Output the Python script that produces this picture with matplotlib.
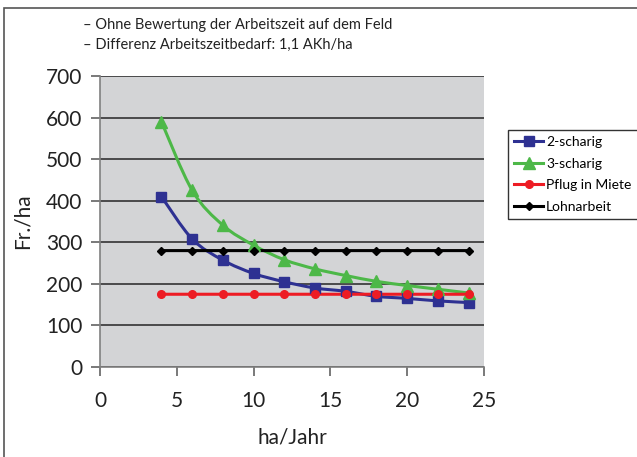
import matplotlib.pyplot as plt
from matplotlib.patches import Rectangle, PathPatch
from matplotlib.path import Path
from matplotlib.lines import Line2D

ha = [4, 6, 8, 10, 12, 14, 16, 18, 20, 22, 24]
zweischarig = [410, 308, 257, 225, 205, 190, 182, 170, 165, 159, 155]
dreischarig = [590, 425, 341, 293, 258, 236, 220, 206, 196, 187, 178]
pflug_miete = [175] * 11
lohnarbeit = [280] * 11

notes = ["– Ohne Bewertung der Arbeitszeit auf dem Feld",
         "– Differenz Arbeitszeitbedarf: 1,1 AKh/ha"]

plt.rcParams['font.family'] = ['Lato', 'DejaVu Sans']


def smooth_path(xs, ys):
    # Catmull-Rom as cubic bezier, like the "smoothed line" option in Excel
    pts = list(zip(xs, ys))
    verts = [pts[0]]
    codes = [Path.MOVETO]
    n = len(pts)
    for i in range(n - 1):
        p0 = pts[max(i - 1, 0)]
        p1 = pts[i]
        p2 = pts[i + 1]
        p3 = pts[min(i + 2, n - 1)]
        c1 = (p1[0] + (p2[0] - p0[0]) / 6, p1[1] + (p2[1] - p0[1]) / 6)
        c2 = (p2[0] - (p3[0] - p1[0]) / 6, p2[1] - (p3[1] - p1[1]) / 6)
        verts += [c1, c2, p2]
        codes += [Path.CURVE4] * 3
    return Path(verts, codes)


fig = plt.figure(figsize=(6.37, 4.57), dpi=100)
# outer frame
fig.patches.append(Rectangle((4 / 637, -0.1), 1.2, (457 - 8) / 457 + 0.1,
                             transform=fig.transFigure, fill=False,
                             edgecolor='#555555', linewidth=1.2))

ax = fig.add_axes([100 / 637, 90 / 457, 384 / 637, 291 / 457])
ax.set_facecolor('#d3d4d6')

series = [
    (zweischarig, '#2e3192', 's', 6.5, '2-scharig'),
    (dreischarig, '#4db848', '^', 8, '3-scharig'),
    (pflug_miete, '#ed1c24', 'o', 5.5, 'Pflug in Miete'),
    (lohnarbeit, 'black', 'D', 4, 'Lohnarbeit'),
]
handles = []
for ys, col, mk, ms, lab in series:
    ax.add_patch(PathPatch(smooth_path(ha, ys), fill=False, edgecolor=col, linewidth=2.2, zorder=2))
    ax.plot(ha, ys, linestyle='none', marker=mk, markersize=ms, color=col, zorder=3)
    handles.append(Line2D([], [], color=col, marker=mk, markersize=ms, linewidth=2.2, label=lab))

ax.set_xlim(0, 25)
ax.set_ylim(0, 700)
ax.set_xticks(range(0, 26, 5))
ax.set_yticks(range(0, 701, 100))
ax.yaxis.grid(True, color='#333333', linewidth=1.2)
ax.set_axisbelow(True)
for side in ['top', 'right']:
    ax.spines[side].set_visible(False)
ax.spines['left'].set_color('#808080')
ax.spines['bottom'].set_color('#808080')
ax.spines['left'].set_linewidth(1.2)
ax.spines['bottom'].set_linewidth(1.2)
ax.tick_params(axis='both', labelsize=15, labelcolor='#222222', color='#555555', length=6.5, width=1.1)
ax.tick_params(axis='x', pad=11)
ax.tick_params(axis='y', pad=6)

ax.set_xlabel('ha/Jahr', fontsize=15, labelpad=12, color='#222222')
ax.set_ylabel('Fr./ha', fontsize=15, labelpad=10, color='#222222')

fig.text(83 / 637, 1 - 25 / 457, notes[0], fontsize=10.5, va='center', color='#222222')
fig.text(83 / 637, 1 - 45 / 457, notes[1], fontsize=10.5, va='center', color='#222222')

leg = ax.legend(handles=handles, loc='upper left', bbox_to_anchor=(508 / 637, 1 - 130 / 457),
                bbox_transform=fig.transFigure, fontsize=10, frameon=True,
                fancybox=False, edgecolor='black', handlelength=2.1,
                handletextpad=0.2, borderpad=0.45, labelspacing=0.68,
                borderaxespad=0)
leg.get_frame().set_linewidth(1)

fig.savefig('out.png', dpi=100)
